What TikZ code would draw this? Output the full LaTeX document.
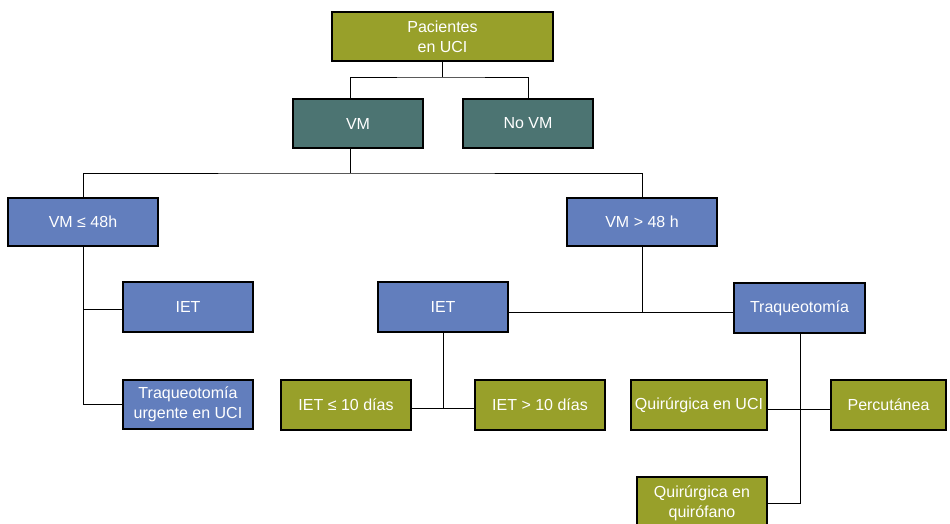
\documentclass[tikz,border=0pt]{standalone}
\usepackage{fontspec}
\setmainfont{Liberation Sans}
\definecolor{olivebox}{HTML}{98A02A}
\definecolor{tealbox}{HTML}{4C7472}
\definecolor{bluebox}{HTML}{627EBD}
\begin{document}
\begin{tikzpicture}[x=1pt,y=-1pt,
  box/.style={draw=black, line width=1.1pt, text=white, font=\fontsize{16}{20}\selectfont, align=center, inner sep=0pt},
  olv/.style={box, fill=olivebox},
  tea/.style={box, fill=tealbox},
  blu/.style={box, fill=bluebox},
  conn/.style={draw=black, line width=1pt}]
\useasboundingbox (0,0) rectangle (950,523);
\fill[white] (0,0) rectangle (950,523);
% nodes
\node[olv, minimum width=221pt, minimum height=49pt] (pac) at (442.5,36.5) {Pacientes\\en UCI};
\node[tea, minimum width=130pt, minimum height=49pt] (vm) at (358,123.5) {VM};
\node[tea, minimum width=130pt, minimum height=49pt] (novm) at (528,123.5) {No VM};
\node[blu, minimum width=150pt, minimum height=48pt] (vma) at (83,222) {VM ≤ 48h};
\node[blu, minimum width=150pt, minimum height=48pt] (vmb) at (642,222) {VM > 48 h};
\node[blu, minimum width=130pt, minimum height=50pt] (ietl) at (188,307) {IET};
\node[blu, minimum width=130pt, minimum height=49pt] (traqu) at (188,404.5) {Traqueotomía\\urgente en UCI};
\node[blu, minimum width=130pt, minimum height=50pt] (ietm) at (443,307) {IET};
\node[blu, minimum width=131pt, minimum height=50pt] (traq) at (799.5,308) {Traqueotomía};
\node[olv, minimum width=130pt, minimum height=50pt] (ieta) at (346,405) {IET ≤ 10 días};
\node[olv, minimum width=130pt, minimum height=50pt] (ietb) at (540,405) {IET > 10 días};
\node[olv, minimum width=136pt, minimum height=50pt] (quci) at (699,405) {Quirúrgica en UCI};
\node[olv, minimum width=115pt, minimum height=50pt] (perc) at (888.5,405) {Percutánea};
\node[olv, minimum width=130pt, minimum height=52pt] (quir) at (702,503) {Quirúrgica en\\quirófano};
% junction coordinates
\coordinate (j1) at (442.5,77);
\coordinate (j2) at (350,173);
\coordinate (j3) at (642,312);
\coordinate (j4) at (443,408);
\coordinate (j5) at (800,409);
\coordinate (j6) at (800,503);
% connectors
\draw[conn] (pac.south) -- (j1);
\draw[conn] ([xshift=-8pt]vm.north) |- (j1) -| (novm.north);
\draw[conn] ([xshift=-8pt]vm.south) -- (j2);
\draw[conn] (vma.north) |- (j2) -| (vmb.north);
\draw[conn] (vma.south) |- (traqu.west);
\draw[conn] (vma.south |- 0,309) -- (ietl.west |- 0,309);
\draw[conn] (ietm.east |- j3) -- (traq.west |- j3);
\draw[conn] (vmb.south) -- (j3);
\draw[conn] (ietm.south) -- (j4);
\draw[conn] (ieta.east |- j4) -- (ietb.west |- j4);
\draw[conn] (traq.south -| j6) -- (j6) -- (quir.east |- j6);
\draw[conn] (quci.east |- j5) -- (perc.west |- j5);
\end{tikzpicture}
\end{document}
